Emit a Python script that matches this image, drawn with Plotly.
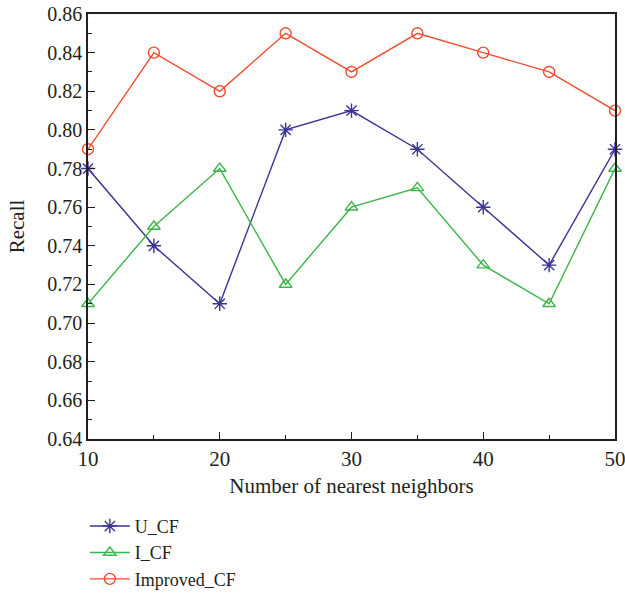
import plotly.graph_objects as go

neighbors = [10, 15, 20, 25, 30, 35, 40, 45, 50]
u_cf = [0.78, 0.74, 0.71, 0.80, 0.81, 0.79, 0.76, 0.73, 0.79]
i_cf = [0.71, 0.75, 0.78, 0.72, 0.76, 0.77, 0.73, 0.71, 0.78]
improved_cf = [0.79, 0.84, 0.82, 0.85, 0.83, 0.85, 0.84, 0.83, 0.81]
y_ticks = [0.64, 0.66, 0.68, 0.70, 0.72, 0.74, 0.76, 0.78, 0.80, 0.82, 0.84, 0.86]
y_labels = ["0.64", "0.66", "0.68", "0.70", "0.72", "0.74", "0.76", "0.78", "0.80", "0.82", "0.84", "0.86"]
x_ticks = [10, 20, 30, 40, 50]

FONT = "Liberation Serif"
INK = "#231f20"

fig = go.Figure()
fig.add_trace(go.Scatter(x=neighbors, y=u_cf, name="U_CF", mode="lines+markers",
                         line=dict(color="#3b3497", width=1.4),
                         marker=dict(symbol="asterisk-open", size=12, line=dict(color="#3b3497", width=1.4)),
                         cliponaxis=False))
fig.add_trace(go.Scatter(x=neighbors, y=i_cf, name="I_CF", mode="lines+markers",
                         line=dict(color="#3db54a", width=1.4),
                         marker=dict(symbol="triangle-up-open", size=11, color="#3db54a", line=dict(width=1.4)),
                         cliponaxis=False))
fig.add_trace(go.Scatter(x=neighbors, y=improved_cf, name="Improved_CF", mode="lines+markers",
                         line=dict(color="#f04b2c", width=1.4),
                         marker=dict(symbol="circle-open", size=11, color="#f04b2c", line=dict(width=1.4)),
                         cliponaxis=False))

fig.update_layout(
    width=625, height=593,
    margin=dict(l=88, r=10, t=14, b=154, autoexpand=False),
    plot_bgcolor="white", paper_bgcolor="white",
    font=dict(family=FONT, size=20, color=INK),
    showlegend=True,
    legend=dict(x=-0.006, y=-0.162, xanchor="left", yanchor="top",
                font=dict(family=FONT, size=18), tracegroupgap=0,
                itemwidth=40, bgcolor="rgba(0,0,0,0)"),
    xaxis=dict(range=[10, 50], tickmode="array", tickvals=x_ticks, automargin=False,
               ticks="inside", ticklen=7, tickwidth=1.3, tickcolor=INK,
               tickfont=dict(size=21), ticklabeloverflow="allow",
               minor=dict(ticks="inside", ticklen=4, dtick=5, tick0=10, tickcolor=INK, tickwidth=1.3),
               showline=True, linecolor=INK, linewidth=1.5, mirror=True,
               showgrid=False, zeroline=False,
               title=dict(text="Number of nearest neighbors", font=dict(family=FONT, size=21), standoff=8)),
    yaxis=dict(range=[0.64, 0.86], tickmode="array", tickvals=y_ticks, ticktext=y_labels, automargin=False,
               ticks="inside", ticklen=7, tickwidth=1.3, tickcolor=INK,
               tickfont=dict(size=20), ticklabeloverflow="allow",
               minor=dict(ticks="inside", ticklen=4, dtick=0.01, tick0=0.64, tickcolor=INK, tickwidth=1.3),
               showline=True, linecolor=INK, linewidth=1.5, mirror=True,
               showgrid=False, zeroline=False,
               title=dict(text="Recall", font=dict(family=FONT, size=21), standoff=17)),
)

fig.write_html("out.html", config={"displayModeBar": False},
               post_script="document.body.style.margin='0';document.body.style.overflow='hidden';")
